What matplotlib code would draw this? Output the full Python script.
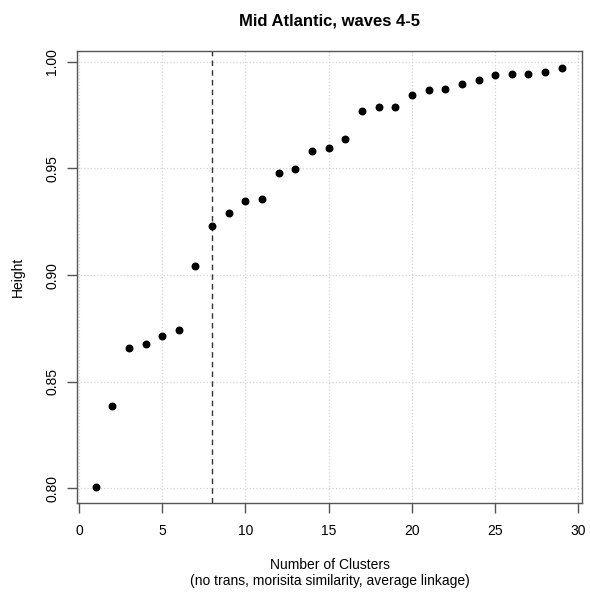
import matplotlib
matplotlib.use("Agg")
from matplotlib import pyplot as plt

# number of clusters vs. height
clusters = list(range(1, 30))
height = [0.8005, 0.8384, 0.8660, 0.8677, 0.8715, 0.8741, 0.9044, 0.9229,
          0.9289, 0.9348, 0.9356, 0.9481, 0.9498, 0.9580, 0.9594, 0.9636,
          0.9769, 0.9789, 0.9789, 0.9843, 0.9868, 0.9873, 0.9898, 0.9915,
          0.9938, 0.9942, 0.9942, 0.9953, 0.9970]
cut_at = 8
xticks = [0, 5, 10, 15, 20, 25, 30]
yticks = [0.80, 0.85, 0.90, 0.95, 1.00]

plt.rcParams['font.family'] = ['Liberation Sans', 'DejaVu Sans']

fig = plt.figure(figsize=(5.9, 5.97), dpi=100)
ax = fig.add_axes([0.131, 0.157, 0.855, 0.758])

ax.scatter(clusters, height, s=22, color='black', zorder=3)
ax.axvline(cut_at, color='#333333', linestyle=(0, (4, 3)), linewidth=1)

ax.set_xlim(-0.1, 30.2)
ax.set_ylim(0.793, 1.0052)
ax.set_xticks(xticks)
ax.set_yticks(yticks)
ax.set_xticklabels([str(t) for t in xticks])
ax.set_yticklabels(['0.80', '0.85', '0.90', '0.95', '1.00'], rotation=90, va='center')
ax.grid(True, color='#d3d3d3', linestyle=':', linewidth=0.9)
ax.set_axisbelow(True)

for sp in ax.spines.values():
    sp.set_color('#555555')
    sp.set_linewidth(1)
ax.tick_params(direction='out', length=7, width=1, color='#555555',
               labelsize=10, pad=8)
ax.tick_params(axis='y', pad=6)

ax.set_xlabel('Number of Clusters\n(no trans, morisita similarity, average linkage)',
              fontsize=10, labelpad=14, linespacing=1.2)
ax.set_ylabel('Height', fontsize=10, labelpad=15)
ax.set_title('Mid Atlantic, waves 4-5', fontsize=12, fontweight='bold', pad=18)

fig.savefig('out.png', dpi=100)
